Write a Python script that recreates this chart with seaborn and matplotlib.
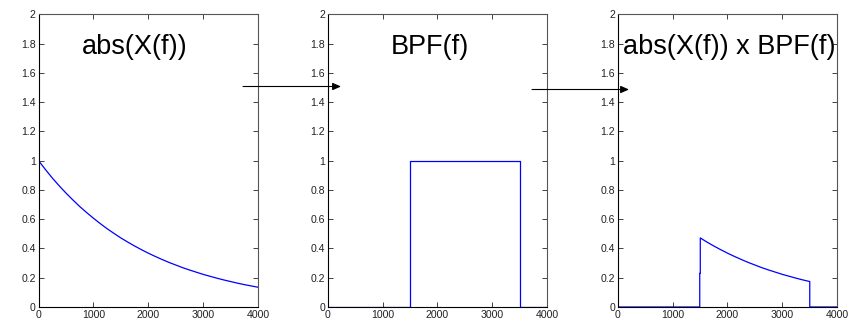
import matplotlib
matplotlib.use("Agg")
import matplotlib.pyplot as plt
import seaborn as sns
import pandas as pd

sns.set_theme(style="white")
plt.rcParams['font.family'] = ['Liberation Sans', 'DejaVu Sans']

# ---- data ----
x_freq = [0, 125, 250, 375, 500, 625, 750, 875, 1000, 1125, 1250, 1375,
          1500, 1625, 1750, 1875, 2000, 2125, 2250, 2375, 2500, 2625,
          2750, 2875, 3000, 3125, 3250, 3375, 3500, 3625, 3750, 3875, 4000]
abs_x = [1.0, 0.94, 0.882, 0.829, 0.779, 0.732, 0.687, 0.646, 0.607,
         0.570, 0.535, 0.503, 0.472, 0.444, 0.417, 0.392, 0.368, 0.346,
         0.325, 0.305, 0.287, 0.269, 0.253, 0.238, 0.223, 0.210, 0.197,
         0.185, 0.174, 0.163, 0.153, 0.144, 0.135]

bpf_x = [0, 1495, 1495, 1505, 1505, 3500, 3500, 4000]
bpf_y = [0, 0, 0.5, 0.5, 1.0, 1.0, 0, 0]

prod_x = [0, 1495, 1495, 1505, 1505, 1625, 1750, 1875, 2000, 2125, 2250,
          2375, 2500, 2625, 2750, 2875, 3000, 3125, 3250, 3375, 3500, 3500, 4000]
prod_y = [0, 0, 0.23, 0.23, 0.472, 0.444, 0.417, 0.392, 0.368, 0.346,
          0.325, 0.305, 0.287, 0.269, 0.253, 0.238, 0.223, 0.210, 0.197,
          0.185, 0.174, 0, 0]

titles = ["abs(X(f))", "BPF(f)", "abs(X(f)) x BPF(f)"]
x_ticks = [0, 1000, 2000, 3000, 4000]
y_ticks = [0, 0.2, 0.4, 0.6, 0.8, 1, 1.2, 1.4, 1.6, 1.8, 2]
y_tick_labels = ["0", "0.2", "0.4", "0.6", "0.8", "1", "1.2", "1.4", "1.6", "1.8", "2"]

W, H = 855, 323
fig = plt.figure(figsize=(W / 100, H / 100), dpi=100)
fig.patch.set_facecolor("white")

lefts = [38.5, 327.7, 617.7]
ax_w = 219.5
top, bottom = 14.3, 307.0

series = [(x_freq, abs_x), (bpf_x, bpf_y), (prod_x, prod_y)]
text_x = [135, 430, 729]

for i, (lx, (xs, ys)) in enumerate(zip(lefts, series)):
    ax = fig.add_axes([lx / W, 1 - bottom / H, ax_w / W, (bottom - top) / H])
    df = pd.DataFrame({"f": xs, "v": ys})
    sns.lineplot(data=df, x="f", y="v", ax=ax, sort=False, estimator=None,
                 color="#0000ff", linewidth=0.9)
    ax.set_xlim(0, 4000)
    ax.set_ylim(0, 2)
    ax.set_xticks(x_ticks)
    ax.set_xticklabels([str(t) for t in x_ticks])
    ax.set_yticks(y_ticks)
    ax.set_yticklabels(y_tick_labels)
    ax.set_xlabel("")
    ax.set_ylabel("")
    ax.tick_params(direction="in", length=3.5, width=0.6, labelsize=7.6,
                   colors="#222222", top=True, right=True, bottom=True, left=True,
                   pad=2)
    ax.tick_params(axis="x", pad=2.5)
    for s in ["left", "bottom"]:
        ax.spines[s].set_color("#000000")
        ax.spines[s].set_linewidth(0.8)
    for s in ["top", "right"]:
        ax.spines[s].set_color("#555555")
        ax.spines[s].set_linewidth(0.8)
    ax.grid(False)
    ax.set_facecolor("white")
    fig.text(text_x[i] / W, 1 - 47 / H, titles[i], ha="center", va="center",
             fontsize=19.5, color="black")

# arrows between panels
for (x0, x1, y) in [(243, 341, 86.5), (532, 629, 89.5)]:
    fig.add_artist(matplotlib.patches.FancyArrowPatch(
        (x0 / W, 1 - y / H), (x1 / W, 1 - y / H), transform=fig.transFigure,
        arrowstyle="-|>,head_length=5,head_width=2.2", color="black",
        linewidth=0.8, shrinkA=0, shrinkB=0))

fig.savefig("out.png", dpi=100, facecolor="white")
